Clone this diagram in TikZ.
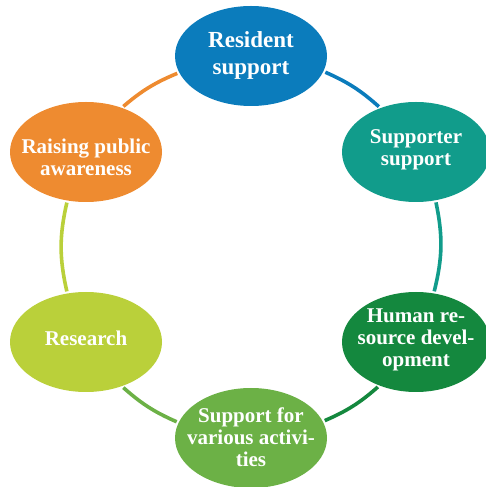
\documentclass[tikz,border=0pt]{standalone}
\usepackage{fontspec}
\setmainfont{Liberation Serif}
\usetikzlibrary{shapes.geometric}
\definecolor{cRes}{RGB}{11,124,188}
\definecolor{cSup}{RGB}{17,156,139}
\definecolor{cHum}{RGB}{20,136,62}
\definecolor{cAct}{RGB}{108,177,70}
\definecolor{cRsch}{RGB}{186,208,58}
\definecolor{cRaise}{RGB}{238,139,48}
\begin{document}
\begin{tikzpicture}[x=1pt,y=1pt,
  bub/.style={ellipse, draw=none, minimum width=152pt, minimum height=100pt, inner sep=0pt},
  txt/.style={text=white, align=center, inner sep=0pt,
    font=\bfseries\fontsize{21}{22}\selectfont},
  link/.style={line width=3.6pt, shorten <=2pt, shorten >=2pt}]
\useasboundingbox (0,0) rectangle (486,487);
% centre of ring (251,240), radius 190
\node[bub, fill=cRes]   (res)   at (251,431) {};
\node[bub, fill=cSup, minimum width=148pt]   (sup)   at (416,335) {};
\node[bub, fill=cHum, minimum width=148pt]   (hum)   at (416,145) {};
\node[bub, fill=cAct]   (act)   at (251,49)  {};
\node[bub, fill=cRsch]  (rsch)  at (86,145)  {};
\node[bub, fill=cRaise] (raise) at (86,335)  {};
\node[txt, font=\bfseries\fontsize{23}{27}\selectfont] (resT) at ([yshift=1pt]res.center) {Resident\\support};
\node[txt] (supT) at ([yshift=2pt]sup.center) {Supporter\\support};
\node[txt] (humT) at ([yshift=2pt]hum.center) {Human re-\\source devel-\\opment};
\node[txt] (actT) at ([yshift=1pt]act.center) {Support for\\various activi-\\ties};
\node[txt] (rschT) at ([yshift=4pt]rsch.center) {Research};
\node[txt] (raiseT) at ([yshift=-5pt]raise.center) {Raising public\\awareness};
\draw[link, cRes]   (res.-12)    to[bend left=9]  (sup.129);
\draw[link, cSup]   (sup.-68)    to[bend left=13] (hum.70);
\draw[link, cHum]   (hum.230)    to[bend left=9]  (act.13);
\draw[link, cAct]   (act.168)    to[bend left=9]  (rsch.-51);
\draw[link, cRsch]  (rsch.111)   to[bend left=13] (raise.-111);
\draw[link, cRaise] (raise.51)   to[bend left=9]  (res.193);
\end{tikzpicture}
\end{document}
